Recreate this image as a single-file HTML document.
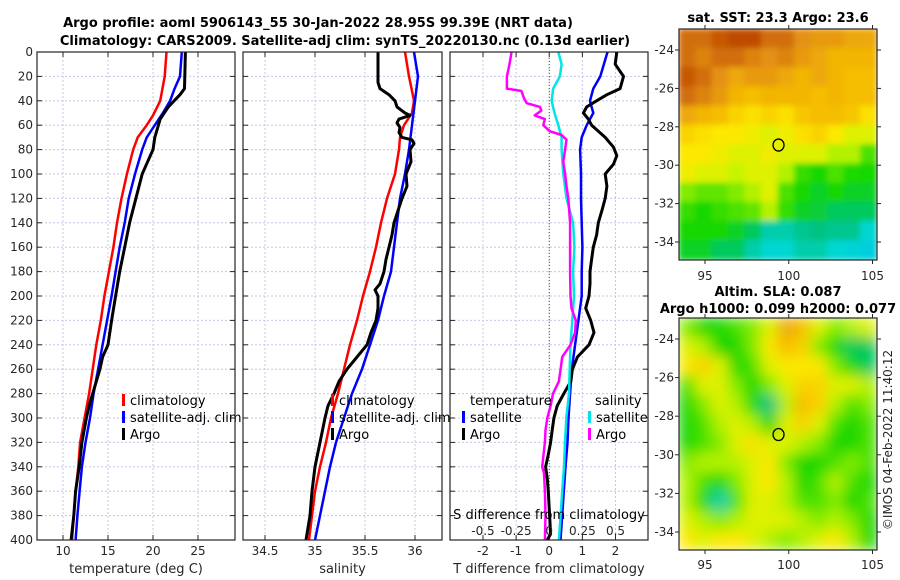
<!DOCTYPE html>
<html><head><meta charset="utf-8">
<style>
html,body{margin:0;padding:0;background:#fff;}
svg{display:block;font-family:"DejaVu Sans","Liberation Sans",sans-serif;}
.tk{font-size:12px;fill:#262626;}
.tt{font-size:13px;font-weight:bold;fill:#000;}
.lg{font-size:13px;fill:#000;}
</style></head>
<body>
<svg id="chart" width="900" height="580" viewBox="0 0 900 580">
<defs>
<filter id="blur1" x="-5%" y="-5%" width="110%" height="110%"><feGaussianBlur stdDeviation="3" edgeMode="duplicate"/></filter>
<filter id="blur2" x="-5%" y="-5%" width="110%" height="110%"><feGaussianBlur stdDeviation="7" edgeMode="duplicate"/></filter>
<clipPath id="clipTop"><rect x="679" y="29" width="198" height="231"/></clipPath>
<clipPath id="clipBot"><rect x="679" y="318" width="198" height="232"/></clipPath>
</defs>
<text class="tt" x="318" y="27" text-anchor="middle">Argo profile: aoml 5906143_55 30-Jan-2022 28.95S 99.39E (NRT data)</text>
<text class="tt" x="345" y="45" text-anchor="middle">Climatology: CARS2009. Satellite-adj clim: synTS_20220130.nc (0.13d earlier)</text>
<text class="tt" x="778" y="22" text-anchor="middle">sat. SST: 23.3 Argo: 23.6</text>
<text class="tt" x="778" y="296" text-anchor="middle">Altim. SLA: 0.087</text>
<text class="tt" x="778" y="313" text-anchor="middle">Argo h1000: 0.099 h2000: 0.077</text>
<text class="tk" transform="translate(892,440) rotate(-90)" text-anchor="middle">©IMOS 04-Feb-2022 11:40:12</text>
<g id="layer"></g>
</svg>
<script>
// ---- depth axis ----
const depthTicks = [0,20,40,60,80,100,120,140,160,180,200,220,240,260,280,300,320,340,360,380,400];
// ---- panel 1: temperature ----
const tempTicks = [10,15,20,25];
const climTDepth = [0,20,40,52,60,70,80,100,120,140,160,180,200,220,240,260,280,300,320,340,360,380,400];
const climT = [21.5,21.3,20.8,20.0,19.3,18.3,17.8,17.1,16.5,16.0,15.6,15.1,14.6,14.2,13.7,13.3,12.9,12.4,11.9,11.7,11.4,11.2,11.0];
const satTDepth = [0,20,30,40,50,60,70,80,100,120,140,160,180,200,220,240,260,280,300,320,340,360,380,400];
const satT = [23.2,23.0,22.4,21.9,21.1,20.2,19.3,18.8,18.0,17.3,16.85,16.3,15.85,15.4,14.9,14.4,13.9,13.4,13.0,12.5,12.1,11.85,11.6,11.4];
const argoTDepth = [0,30,35,45,55,70,80,90,100,120,140,160,180,200,220,230,240,250,260,270,280,290,300,320,340,360,380,400];
const argoT = [23.6,23.5,23.0,21.7,20.8,20.2,20.0,19.4,18.8,18.1,17.4,16.85,16.3,15.85,15.4,15.2,15.0,14.4,14.1,13.7,13.3,12.9,12.6,12.1,11.8,11.4,11.2,10.9];
// ---- panel 2: salinity ----
const salTicks = [34.5,35,35.5,36];
const salTickLabels = ["34.5","35","35.5","36"];
const climSDepth = [0,20,40,50,60,70,80,100,120,140,160,180,200,220,240,260,280,300,320,340,360,380,400];
const climS = [35.90,35.94,35.99,35.97,35.89,35.85,35.84,35.80,35.72,35.66,35.61,35.55,35.48,35.42,35.35,35.29,35.23,35.16,35.11,35.05,35.0,34.97,34.94];
const satSDepth = [0,20,40,60,80,100,120,140,160,180,200,220,240,260,280,300,320,340,360,380,400];
const satS = [35.99,36.03,36.0,35.97,35.94,35.90,35.85,35.82,35.79,35.76,35.69,35.63,35.55,35.47,35.37,35.29,35.21,35.15,35.10,35.05,35.0];
const argoSDepth = [0,25,30,35,40,45,50,52,55,58,62,66,70,72,75,80,90,100,110,120,140,150,160,170,180,190,195,200,210,220,230,240,250,260,270,280,290,300,320,340,360,380,400];
const argoS = [35.63,35.63,35.65,35.74,35.80,35.82,35.90,35.95,35.84,35.82,35.85,35.84,35.87,35.97,35.99,35.95,35.96,35.91,35.92,35.87,35.79,35.77,35.74,35.71,35.69,35.65,35.60,35.63,35.63,35.61,35.56,35.52,35.42,35.32,35.24,35.19,35.13,35.10,35.05,35.0,34.97,34.95,34.91];
// ---- panel 3: differences ----
const dTTicks = [-2,-1,0,1,2];
const dSTicks = [-0.5,-0.25,0,0.25,0.5];
const dSTickLabels = ["-0.5","-0.25","0","0.25","0.5"];
const satDTDepth = [0,20,30,40,45,50,60,70,80,100,120,140,160,180,200,220,240,260,280,300,320,340,360,380,400];
const satDT = [1.76,1.54,1.33,1.23,1.28,1.33,1.13,0.98,0.93,0.96,0.96,0.98,1.0,0.98,0.98,0.88,0.78,0.68,0.63,0.58,0.55,0.49,0.44,0.39,0.34];
const argoDTDepth = [0,10,20,30,35,40,45,50,55,60,70,78,85,92,100,110,120,130,140,150,160,170,180,190,200,210,220,230,240,250,260,270,280,290,300,310,320,330,340,350,360,380,395,400];
const argoDT = [2.04,1.99,2.24,2.14,1.74,1.43,1.13,1.03,1.18,1.28,1.69,1.94,2.04,1.94,1.69,1.74,1.69,1.59,1.48,1.43,1.33,1.28,1.23,1.23,1.2,1.1,1.25,1.35,1.2,0.85,0.7,0.65,0.44,0.24,0.14,0.09,0.04,-0.03,-0.11,-0.06,-0.03,0.01,0.04,-0.06];
const satDSDepth = [0,10,20,30,40,50,60,70,80,100,120,140,160,180,200,220,240,260,280,300,320,340,360,380,400];
const satDS = [0.068,0.093,0.08,0.03,0.018,0.04,0.068,0.093,0.093,0.106,0.13,0.18,0.19,0.18,0.187,0.174,0.16,0.154,0.149,0.129,0.119,0.111,0.098,0.086,0.073];
const argoDSDepth = [0,10,20,30,32,38,42,45,48,52,55,60,65,68,72,80,90,100,110,120,140,160,180,200,210,220,230,240,250,260,270,280,290,300,310,320,340,345,360,380,400];
const argoDS = [-0.285,-0.30,-0.32,-0.32,-0.21,-0.19,-0.17,-0.07,-0.06,-0.11,-0.033,-0.045,0.005,0.093,0.13,0.12,0.106,0.12,0.13,0.144,0.157,0.157,0.157,0.16,0.168,0.2,0.195,0.16,0.098,0.086,0.073,0.028,0.01,-0.015,-0.028,-0.033,-0.053,-0.04,-0.033,-0.028,-0.033];
// ---- maps ----
const lonTicks = [95,100,105];
const latTicks = [-24,-26,-28,-30,-32,-34];
const argoLon = 99.39, argoLat = -28.95;
const sstGrid = [
[0.85,0.85,0.88,0.9,0.9,0.85,0.85,0.8,0.78,0.78,0.75,0.75],
[0.85,0.82,0.85,0.85,0.82,0.8,0.82,0.78,0.75,0.72,0.72,0.72],
[0.88,0.85,0.8,0.75,0.78,0.78,0.75,0.72,0.75,0.72,0.7,0.7],
[0.85,0.82,0.78,0.72,0.7,0.72,0.72,0.72,0.7,0.72,0.7,0.7],
[0.75,0.72,0.7,0.65,0.62,0.65,0.62,0.68,0.7,0.7,0.68,0.62],
[0.65,0.62,0.6,0.6,0.58,0.55,0.58,0.62,0.65,0.6,0.55,0.55],
[0.6,0.6,0.58,0.55,0.55,0.58,0.55,0.55,0.55,0.5,0.5,0.4],
[0.58,0.55,0.55,0.52,0.55,0.55,0.5,0.38,0.35,0.4,0.36,0.35],
[0.45,0.42,0.42,0.45,0.5,0.55,0.4,0.35,0.33,0.35,0.33,0.33],
[0.38,0.35,0.38,0.4,0.42,0.5,0.38,0.33,0.32,0.3,0.3,0.3],
[0.35,0.35,0.35,0.33,0.3,0.25,0.25,0.27,0.28,0.27,0.27,0.22],
[0.33,0.33,0.3,0.3,0.25,0.22,0.22,0.25,0.25,0.22,0.2,0.18]];
const slaGrid = [
[0.45,0.35,0.35,0.4,0.45,0.55,0.75,0.7,0.55,0.45,0.5,0.55],
[0.55,0.5,0.35,0.35,0.45,0.6,0.7,0.65,0.45,0.35,0.3,0.3],
[0.6,0.65,0.55,0.35,0.4,0.55,0.6,0.6,0.6,0.45,0.35,0.3],
[0.4,0.55,0.55,0.45,0.35,0.45,0.55,0.65,0.65,0.55,0.55,0.5],
[0.35,0.45,0.55,0.5,0.35,0.28,0.5,0.7,0.65,0.5,0.4,0.45],
[0.35,0.4,0.5,0.55,0.5,0.35,0.55,0.65,0.55,0.4,0.35,0.4],
[0.35,0.4,0.45,0.55,0.62,0.55,0.55,0.5,0.45,0.35,0.35,0.4],
[0.45,0.5,0.5,0.5,0.55,0.6,0.45,0.35,0.35,0.4,0.45,0.4],
[0.5,0.4,0.35,0.45,0.55,0.6,0.5,0.35,0.4,0.5,0.4,0.35],
[0.5,0.35,0.25,0.4,0.55,0.55,0.5,0.4,0.4,0.45,0.35,0.4],
[0.55,0.5,0.45,0.5,0.55,0.55,0.55,0.5,0.45,0.5,0.45,0.35],
[0.6,0.55,0.6,0.6,0.55,0.5,0.45,0.5,0.55,0.6,0.5,0.35]];

const NS='http://www.w3.org/2000/svg';
const layer=document.getElementById('layer');
function mk(tag,attrs,parent){const e=document.createElementNS(NS,tag);for(const k in attrs)e.setAttribute(k,attrs[k]);(parent||layer).appendChild(e);return e;}
const Y0=52, Y1=540;
function yD(d){return Y0+(d/400)*(Y1-Y0);}
function lin(d0,d1,r0,r1){return v=>r0+(v-d0)/(d1-d0)*(r1-r0);}

function panel(name,x0,x1,xs,ticks,labels,showY,title){
  const g=mk('g',{});
  
  
  ticks.forEach(t=>{mk('line',{x1:xs(t),x2:xs(t),y1:Y0,y2:Y1,stroke:'#c4c8e6','stroke-width':1,'stroke-dasharray':'2,2'},g);});
  depthTicks.forEach(d=>{
    if(d>0&&d<400) mk('line',{x1:x0,x2:x1,y1:yD(d),y2:yD(d),stroke:'#c4c8e6','stroke-width':1,'stroke-dasharray':'2,2'},g);
    mk('line',{x1:x0,x2:x0+5,y1:yD(d),y2:yD(d),stroke:'#262626'},g);
    mk('line',{x1:x1-5,x2:x1,y1:yD(d),y2:yD(d),stroke:'#262626'},g);
    if(showY){const t=mk('text',{x:x0-4,y:yD(d)+4,'text-anchor':'end',class:'tk'},g);t.textContent=d;
      
      }
  });
  ticks.forEach((t,i)=>{
    mk('line',{x1:xs(t),x2:xs(t),y1:Y1,y2:Y1-5,stroke:'#262626'},g);
    mk('line',{x1:xs(t),x2:xs(t),y1:Y0,y2:Y0+5,stroke:'#262626'},g);
    const tx=mk('text',{x:xs(t),y:Y1+15,'text-anchor':'middle',class:'tk'},g);tx.textContent=labels[i];
    
    
  });
  const tt=mk('text',{x:(x0+x1)/2,y:573,'text-anchor':'middle',class:'tk',style:'font-size:13px'},g);tt.textContent=title;
  
  
  return g;
}
function frame(g,x0,x1){mk('rect',{x:x0,y:Y0,width:x1-x0,height:Y1-Y0,fill:'none',stroke:'#262626','stroke-width':1.2},g);}
function series(g,name,depths,vals,xs,color,w){
  const pts=depths.map((d,i)=>xs(vals[i]).toFixed(1)+','+yD(d).toFixed(1)).join(' ');
  const p=mk('polyline',{points:pts,fill:'none',stroke:color,'stroke-width':w,'stroke-linejoin':'round'},g);
  
  
}
function legend(g,x,y,color,label,name){
  mk('rect',{x:x,y:y-11,width:3,height:12,fill:color},g);
  const t=mk('text',{x:x+8,y:y,class:'lg'},g);t.textContent=label;
  
  
}

// Panel 1
const xT=lin(10,25,63,198);
const g1=panel('temperature-panel',37,235,xT,tempTicks,tempTicks.map(String),true,'temperature (deg C)');
series(g1,'climatology-temp-line',climTDepth,climT,xT,'#ff0000',2.5);
series(g1,'satellite-temp-line',satTDepth,satT,xT,'#0000ff',2.5);
series(g1,'argo-temp-line',argoTDepth,argoT,xT,'#000000',3);
legend(g1,122,405,'#ff0000','climatology','legend-climatology');
legend(g1,122,422,'#0000ff','satellite-adj. clim','legend-satellite-adj');
legend(g1,122,439,'#000000','Argo','legend-argo');
frame(g1,37,235);

// Panel 2
const xS=lin(34.5,36,265,415);
const g2=panel('salinity-panel',243,442,xS,salTicks,salTickLabels,false,'salinity');
series(g2,'climatology-sal-line',climSDepth,climS,xS,'#ff0000',2.5);
series(g2,'satellite-sal-line',satSDepth,satS,xS,'#0000ff',2.5);
series(g2,'argo-sal-line',argoSDepth,argoS,xS,'#000000',3);
legend(g2,331,405,'#ff0000','climatology','legend-climatology-sal');
legend(g2,331,422,'#0000ff','satellite-adj. clim','legend-satellite-adj-sal');
legend(g2,331,439,'#000000','Argo','legend-argo-sal');
frame(g2,243,442);

// Panel 3
const xDT=lin(-2,2,483,615.5);
const xDS=lin(-0.5,0.5,483,615.5);
const g3=panel('difference-panel',450,648,xDT,dTTicks,dTTicks.map(String),false,'T difference from climatology');
mk('line',{x1:xDT(0),x2:xDT(0),y1:Y0,y2:Y1,stroke:'#555','stroke-width':1,'stroke-dasharray':'1,2'},g3);
series(g3,'satellite-temp-diff-line',satDTDepth,satDT,xDT,'#0000ff',2.5);
series(g3,'argo-temp-diff-line',argoDTDepth,argoDT,xDT,'#000000',3);
series(g3,'satellite-sal-diff-line',satDSDepth,satDS,xDS,'#00e5e5',2.5);
series(g3,'argo-sal-diff-line',argoDSDepth,argoDS,xDS,'#ff00ff',2.5);
{const t=mk('text',{x:470,y:405,class:'lg'},g3);t.textContent='temperature';
 
 }
{const t=mk('text',{x:595,y:405,class:'lg'},g3);t.textContent='salinity';
 
 }
legend(g3,462,422,'#0000ff','satellite','legend-temp-satellite');
legend(g3,462,439,'#000000','Argo','legend-temp-argo');
legend(g3,588,422,'#00e5e5','satellite','legend-sal-satellite');
legend(g3,588,439,'#ff00ff','Argo','legend-sal-argo');
{const t=mk('text',{x:549,y:519,'text-anchor':'middle',class:'lg'},g3);t.textContent='S difference from climatology';
 
 }
dSTicks.forEach((s,i)=>{const t=mk('text',{x:xDS(s),y:535,'text-anchor':'middle',class:'tk'},g3);t.textContent=dSTickLabels[i];
 
 });
frame(g3,450,648);

// Colormap
const cmStops=[[0.15,[0,200,230]],[0.22,[0,215,210]],[0.28,[0,195,130]],[0.35,[20,215,0]],[0.45,[130,235,0]],[0.53,[210,245,0]],[0.6,[252,232,0]],[0.7,[245,190,0]],[0.8,[228,145,20]],[0.9,[190,75,0]],[1.0,[160,40,0]]];
function cmap(v){
  for(let i=0;i<cmStops.length-1;i++){const a=cmStops[i],b=cmStops[i+1];
    if(v<=b[0]){const f=Math.max(0,(v-a[0])/(b[0]-a[0]));const c=a[1].map((x,k)=>Math.round(x+(b[1][k]-x)*f));return 'rgb('+c.join(',')+')';}}
  return 'rgb(160,40,0)';
}
function map(name,grid,top,bottom,lat24,lat34,filt,clip,labelY){
  const g=mk('g',{});
  
  
  const x0=679,x1=877;
  const xL=lin(95,105,705,872.5);
  const yL=lin(-24,-34,lat24,lat34);
  const rows=grid.length, cols=grid[0].length;
  const cw=(x1-x0)/cols, ch=(bottom-top)/rows;
  const cg=mk('g',{'clip-path':'url(#'+clip+')'},g);
  const ig=mk('g',{filter:'url(#'+filt+')'},cg);
  grid.forEach((row,r)=>row.forEach((v,c)=>{
    const cell=mk('rect',{x:x0+c*cw-0.5,y:top+r*ch-0.5,width:cw+1,height:ch+1,fill:cmap(v)},ig);
    
    
  }));
  mk('rect',{x:x0,y:top,width:x1-x0,height:bottom-top,fill:'none',stroke:'#262626','stroke-width':1.2},g);
  latTicks.forEach(l=>{
    mk('line',{x1:x0,x2:x0-4,y1:yL(l),y2:yL(l),stroke:'#262626'},g);
    mk('line',{x1:x1,x2:x1+4,y1:yL(l),y2:yL(l),stroke:'#262626'},g);
    const t=mk('text',{x:x0-5,y:yL(l)+4,'text-anchor':'end',class:'tk'},g);t.textContent=l;
    
    
  });
  lonTicks.forEach(l=>{
    mk('line',{x1:xL(l),x2:xL(l),y1:bottom,y2:bottom+4,stroke:'#262626'},g);
    mk('line',{x1:xL(l),x2:xL(l),y1:top,y2:top-4,stroke:'#262626'},g);
    const t=mk('text',{x:xL(l),y:labelY,'text-anchor':'middle',class:'tk'},g);t.textContent=l;
    
    
  });
  const m=mk('ellipse',{cx:xL(argoLon),cy:yL(argoLat),rx:5.5,ry:6,fill:'none',stroke:'#000','stroke-width':1.3},g);
  
  
}
map('sst-map',sstGrid,29,260,50,242,'blur1','clipTop',280);
map('sla-map',slaGrid,318,550,339,532,'blur2','clipBot',569);
</script>
</body></html>
